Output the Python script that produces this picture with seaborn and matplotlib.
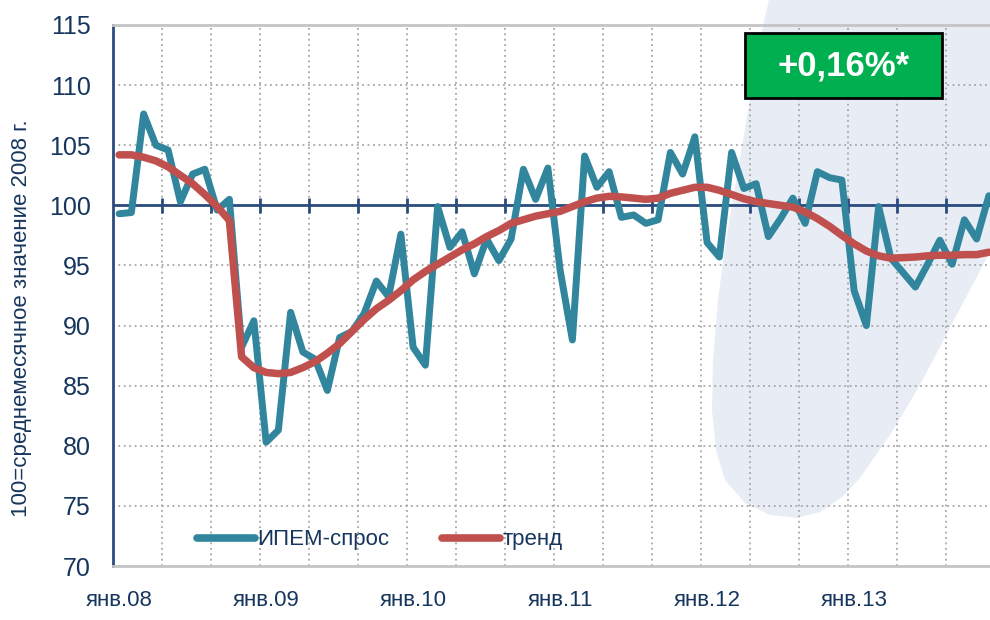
import numpy as np
import pandas as pd
import matplotlib
matplotlib.use("Agg")
import matplotlib.pyplot as plt
from matplotlib.patches import Polygon, Rectangle
from matplotlib.lines import Line2D
import seaborn as sns

# Data (monthly, Jan 2008 - Dec 2013)
demand = [99.3, 99.4, 107.6, 105.0, 104.6, 100.3, 102.6, 103.0, 99.6, 100.5, 88.2, 90.4,
          80.3, 81.3, 91.1, 87.8, 87.2, 84.6, 89.0, 89.5, 91.0, 93.7, 92.4, 97.6,
          88.2, 86.7, 99.9, 96.5, 97.8, 94.3, 97.2, 95.4, 97.2, 103.0, 100.5, 103.1,
          94.6, 88.8, 104.1, 101.5, 102.8, 99.0, 99.2, 98.5, 98.8, 104.4, 102.6, 105.7,
          96.9, 95.7, 104.4, 101.4, 101.8, 97.4, 98.9, 100.6, 98.5, 102.8, 102.3, 102.1,
          92.9, 90.0, 99.9, 95.6, 94.4, 93.2, 95.1, 97.1, 95.1, 98.8, 97.2, 100.8]
trend = [104.2, 104.2, 104.0, 103.7, 103.2, 102.5, 101.8, 100.9, 99.9, 98.75, 87.4, 86.5,
         86.1, 86.0, 86.1, 86.5, 87.0, 87.7, 88.5, 89.5, 90.5, 91.4, 92.1, 92.9,
         93.8, 94.5, 95.1, 95.7, 96.3, 96.8, 97.4, 97.9, 98.5, 98.8, 99.1, 99.3,
         99.5, 99.9, 100.3, 100.6, 100.75, 100.7, 100.6, 100.5, 100.6, 101.0, 101.25, 101.5,
         101.5, 101.25, 100.9, 100.55, 100.3, 100.15, 100.0, 99.85, 99.45, 98.9, 98.25, 97.5,
         96.8, 96.2, 95.8, 95.6, 95.65, 95.7, 95.8, 95.85, 95.85, 95.9, 95.9, 96.1]
year_labels = ["янв.08", "янв.09", "янв.10", "янв.11", "янв.12", "янв.13"]
series_names = ["ИПЕМ-спрос", "тренд"]
badge_text = "+0,16%*"

month = np.arange(len(demand))
df = pd.DataFrame({"month": month, "demand": demand, "trend": trend})

sns.set_style("white")
narrow = ["Liberation Sans Narrow", "Liberation Sans", "DejaVu Sans"]
regular = ["Liberation Sans", "DejaVu Sans"]
plt.rcParams["font.family"] = narrow

navy = "#17365D"
axis_col = "#2B4C7E"
teal = "#31859C"
red = "#C0504D"
grid_col = "#A6A6A6"

fig = plt.figure(figsize=(9.9, 6.2), dpi=100)

# light decorative shape in the background
px = [(770, -5), (760, 40), (750, 100), (738, 170), (726, 240), (718, 300), (713, 360),
      (712, 410), (716, 450), (725, 480), (745, 503), (770, 515), (797, 518), (820, 512),
      (842, 497), (860, 478), (890, 435), (920, 385), (955, 318), (990, 252), (1000, 235),
      (1000, -5)]
shape = Polygon([(x / 990, 1 - y / 620) for x, y in px], closed=True,
                transform=fig.transFigure, facecolor="#E8ECF5", edgecolor="none", zorder=-5)
fig.patches.append(shape)

ax = fig.add_axes([113 / 990, 1 - 566 / 620, 882 / 990, 541 / 620])
ax.set_facecolor("none")

sns.lineplot(data=df, x="month", y="demand", ax=ax, color=teal, lw=5, zorder=3)
sns.lineplot(data=df, x="month", y="trend", ax=ax, color=red, lw=5.4, zorder=4)

ax.set_xlim(-0.5, len(demand) - 0.5)
ax.set_ylim(70, 115)
ax.set_yticks(np.arange(70, 116, 5))
ax.set_xticks(np.arange(0, len(demand), 12))
ax.set_xticklabels(year_labels)
minor_x = np.arange(3.5, len(demand) - 1, 4)
ax.set_xticks(minor_x, minor=True)

ax.set_xlabel("")
ax.set_ylabel("")

ax.grid(False)
ax.grid(which="minor", axis="x", color=grid_col, linestyle=(0, (1, 2)), lw=1.3)
for yv in range(75, 115, 5):
    ax.axhline(yv, color=grid_col, linestyle=(0, (1, 2)), lw=1.3, zorder=1)

# x axis drawn at 100
ax.axhline(100, color=axis_col, lw=2, zorder=2)
ax.vlines(minor_x, 99.35, 100.65, color=axis_col, lw=2, zorder=2)

for s in ["top", "bottom"]:
    ax.spines[s].set_color("#C4C4C4")
    ax.spines[s].set_linewidth(2)
ax.spines["right"].set_visible(False)
ax.spines["left"].set_color(axis_col)
ax.spines["left"].set_linewidth(2)

ax.tick_params(axis="y", direction="inout", length=14, width=2, color=axis_col,
               labelsize=18, labelcolor=navy, pad=9)
ax.tick_params(axis="x", which="both", length=0, labelsize=16, labelcolor=navy, pad=17)

fig.text(22 / 990, 1 - 318 / 620, "100=среднемесячное значение 2008 г.", rotation=90,
         ha="center", va="center", fontsize=16, color=navy)

handles = [Line2D([], [], color=teal, lw=5.5, solid_capstyle="round"),
           Line2D([], [], color=red, lw=5.5, solid_capstyle="round")]
leg = ax.legend(handles, series_names, loc="center left", bbox_to_anchor=(197 / 990, 1 - 540 / 620),
                bbox_transform=fig.transFigure, ncol=2, frameon=False, handlelength=2.6,
                handletextpad=0.1, columnspacing=2.4, borderaxespad=0, borderpad=0,
                prop={"family": regular, "size": 16})
for t in leg.get_texts():
    t.set_color(navy)

# green badge
fig.patches.append(Rectangle((745 / 990, 1 - 98 / 620), 197 / 990, 65 / 620,
                             transform=fig.transFigure, facecolor="#00B050",
                             edgecolor="black", lw=2, zorder=10))
fig.text(843.5 / 990, 1 - 66 / 620, badge_text, ha="center", va="center", color="white",
         fontsize=25, fontweight="bold", zorder=11)

fig.savefig("out.png", dpi=100)
